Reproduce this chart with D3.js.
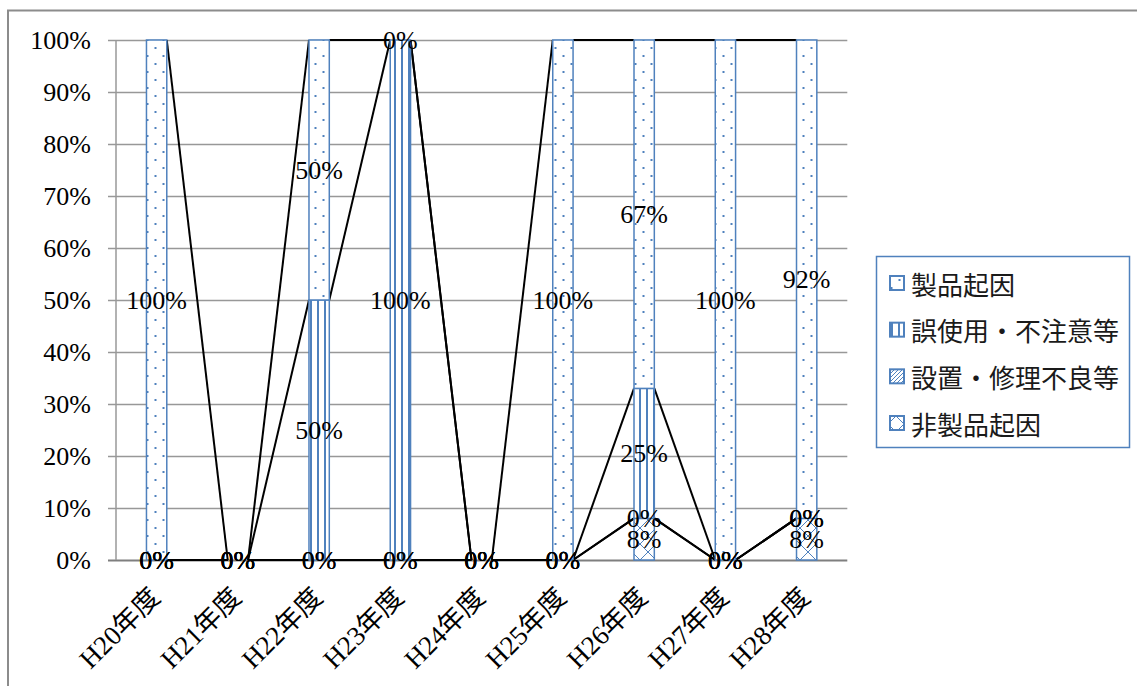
<!DOCTYPE html>
<html>
<head>
<meta charset="utf-8">
<script src="https://cdn.jsdelivr.net/npm/d3@7"></script>
<style>
  html, body { margin: 0; padding: 0; background: #fff; }
  svg { display: block; }
</style>
</head>
<body>
<div id="chart"></div>
<script>
// Fiscal years on the category axis
const categories = ["H20年度", "H21年度", "H22年度", "H23年度", "H24年度", "H25年度", "H26年度", "H27年度", "H28年度"];

// Series in stacking order, bottom to top (values in %)
const seriesNames = ["非製品起因", "設置・修理不良等", "誤使用・不注意等", "製品起因"];
const nonProduct   = [0, 0, 0,   0, 0, 0,   8, 0,   8];
const installation = [0, 0, 0,   0, 0, 0,   0, 0,   0];
const misuse       = [0, 0, 50, 100, 0, 0,  25, 0,   0];
const product      = [100, 0, 50, 0, 0, 100, 67, 100, 92];

// Legend lists the top of the stack first
const legendOrder = ["製品起因", "誤使用・不注意等", "設置・修理不良等", "非製品起因"];

const yTicks = [0, 10, 20, 30, 40, 50, 60, 70, 80, 90, 100];

const W = 1137, H = 686;
const blue = "#4F81BD";
const serif = "'Liberation Serif', 'Noto Sans CJK JP', serif";
const gothic = "'Noto Sans CJK JP', sans-serif";

const svg = d3.select("#chart").append("svg")
  .attr("width", W).attr("height", H);

// Fill patterns for each series
const defs = svg.append("defs");
const patternIds = {
  "製品起因": "pat-dots",
  "誤使用・不注意等": "pat-vert",
  "設置・修理不良等": "pat-diag",
  "非製品起因": "pat-cross"
};

const pDots = defs.append("pattern").attr("id", "pat-dots")
  .attr("patternUnits", "userSpaceOnUse").attr("width", 16).attr("height", 16)
  .attr("x", 2.5).attr("y", 7);
pDots.append("rect").attr("width", 16).attr("height", 16).attr("fill", "#fff");
pDots.append("rect").attr("x", 0).attr("y", 0).attr("width", 2).attr("height", 2).attr("fill", blue);
pDots.append("rect").attr("x", 8).attr("y", 8).attr("width", 2).attr("height", 2).attr("fill", blue);

const pVert = defs.append("pattern").attr("id", "pat-vert")
  .attr("patternUnits", "userSpaceOnUse").attr("width", 7).attr("height", 8)
  .attr("x", 2);
pVert.append("rect").attr("width", 7).attr("height", 8).attr("fill", "#fff");
pVert.append("rect").attr("x", 0).attr("width", 2).attr("height", 8).attr("fill", blue);

const pDiag = defs.append("pattern").attr("id", "pat-diag")
  .attr("patternUnits", "userSpaceOnUse").attr("width", 4).attr("height", 4);
pDiag.append("rect").attr("width", 4).attr("height", 4).attr("fill", "#fff");
pDiag.append("path").attr("d", "M-1,1 L1,-1 M0,4 L4,0 M3,5 L5,3")
  .attr("stroke", blue).attr("stroke-width", 1);

const pCross = defs.append("pattern").attr("id", "pat-cross")
  .attr("patternUnits", "userSpaceOnUse").attr("width", 16).attr("height", 16);
pCross.append("rect").attr("width", 16).attr("height", 16).attr("fill", "#fff");
pCross.append("path").attr("d", "M0,0 L16,16 M16,0 L0,16")
  .attr("stroke", blue).attr("stroke-width", 1);

// Chart area frame
svg.append("rect")
  .attr("x", 8).attr("y", 10.5).attr("width", W + 20).attr("height", H + 20)
  .attr("fill", "none").attr("stroke", "#8c8c8c").attr("stroke-width", 2);

// Scales
const plotLeft = 116, plotRight = 847.3, plotTop = 40, plotBottom = 560;
const x = d3.scaleBand().domain(categories)
  .range([plotLeft, plotRight]).paddingInner(0.75).paddingOuter(0.375);
const y = d3.scaleLinear().domain([0, 100]).range([plotBottom, plotTop]);
const bw = x.bandwidth();

// Gridlines and y labels via axis
const yAxis = d3.axisLeft(y).tickValues(yTicks).tickFormat(d => d + "%")
  .tickSize(-(plotRight - plotLeft)).tickSizeOuter(0).tickPadding(25);
const gy = svg.append("g").attr("transform", `translate(${plotLeft},0)`).call(yAxis);
gy.select(".domain").remove();
gy.selectAll(".tick line")
  .attr("x1", -8)
  .attr("stroke", d => d === 0 ? "#7f7f7f" : "#989898")
  .attr("stroke-width", d => d === 0 ? 2 : 1.5);
gy.selectAll(".tick text")
  .attr("font-family", serif).attr("font-size", 26).attr("fill", "#000");

// Vertical axis line
svg.append("line")
  .attr("x1", plotLeft).attr("x2", plotLeft)
  .attr("y1", plotTop).attr("y2", plotBottom)
  .attr("stroke", "#989898").attr("stroke-width", 1.5);

// Stack the series
const table = categories.map((c, i) => ({
  cat: c,
  "非製品起因": nonProduct[i],
  "設置・修理不良等": installation[i],
  "誤使用・不注意等": misuse[i],
  "製品起因": product[i]
}));
const stacked = d3.stack().keys(seriesNames)(table);

// Series lines between adjacent columns
const lineG = svg.append("g");
stacked.forEach(s => {
  for (let i = 0; i < s.length - 1; i++) {
    lineG.append("line")
      .attr("x1", x(categories[i]) + bw)
      .attr("y1", y(s[i][1]))
      .attr("x2", x(categories[i + 1]))
      .attr("y2", y(s[i + 1][1]))
      .attr("stroke", "#000").attr("stroke-width", 2);
  }
});

// Column segments
const barG = svg.append("g");
stacked.forEach(s => {
  barG.selectAll(null)
    .data(s.filter(d => d[1] - d[0] > 0))
    .join("rect")
    .attr("x", d => x(d.data.cat))
    .attr("y", d => y(d[1]))
    .attr("width", bw)
    .attr("height", d => y(d[0]) - y(d[1]))
    .attr("fill", `url(#${patternIds[s.key]})`)
    .attr("stroke", blue).attr("stroke-width", 1.5);
});

// Category labels
svg.append("g").selectAll("text")
  .data(categories)
  .join("text")
  .attr("transform", d => `translate(${x(d) + bw / 2 + 5},${plotBottom + 39}) rotate(-45)`)
  .attr("text-anchor", "end")
  .attr("font-family", serif).attr("font-size", 27).attr("fill", "#000")
  .text(d => d);

// Data labels at the middle of every segment
const labelG = svg.append("g");
stacked.forEach(s => {
  labelG.selectAll(null)
    .data(s)
    .join("text")
    .attr("x", d => x(d.data.cat) + bw / 2)
    .attr("y", d => y((d[0] + d[1]) / 2))
    .attr("text-anchor", "middle")
    .attr("dominant-baseline", "central")
    .attr("font-family", serif).attr("font-size", 26).attr("fill", "#000")
    .text(d => (d[1] - d[0]) + "%");
});

// Legend
const lg = svg.append("g");
lg.append("rect")
  .attr("x", 876.5).attr("y", 256.5).attr("width", 253).attr("height", 191)
  .attr("fill", "#fff").attr("stroke", blue).attr("stroke-width", 1.5);
const legendY = d3.scalePoint().domain(legendOrder).range([283, 423]);
legendOrder.forEach(name => {
  const cy = legendY(name);
  lg.append("rect")
    .attr("x", 890).attr("y", cy - 7).attr("width", 14).attr("height", 14)
    .attr("fill", `url(#${patternIds[name]})`)
    .attr("stroke", blue).attr("stroke-width", 2);
  lg.append("text")
    .attr("x", 911).attr("y", cy)
    .attr("dominant-baseline", "central")
    .attr("font-family", gothic).attr("font-size", 26).attr("fill", "#1a1a1a")
    .text(name);
});
</script>
</body>
</html>
